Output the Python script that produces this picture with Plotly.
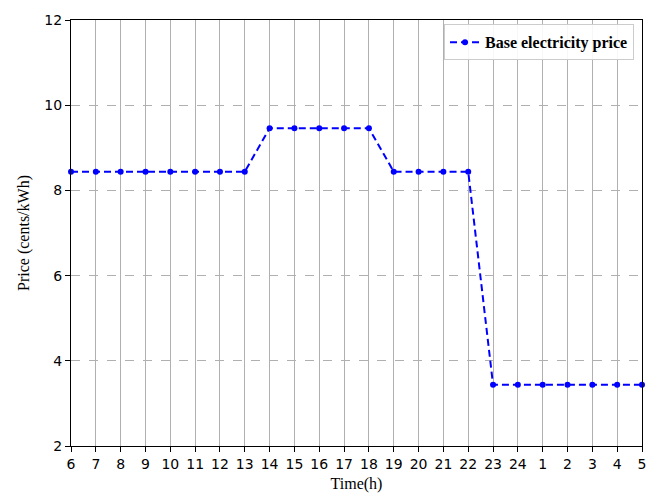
import plotly.graph_objects as go

hours = ["6","7","8","9","10","11","12","13","14","15","16","17","18","19","20","21","22","23","24","1","2","3","4","5"]
price = [8.44,8.44,8.44,8.44,8.44,8.44,8.44,8.44,9.46,9.46,9.46,9.46,9.46,8.44,8.44,8.44,8.44,3.44,3.44,3.44,3.44,3.44,3.44,3.44]
y_ticks = [2,4,6,8,10,12]

xs = list(range(len(hours)))

fig = go.Figure()
fig.add_trace(go.Scatter(
    x=xs, y=price, mode="lines+markers", name="Base electricity price",
    line=dict(color="#0000ff", width=2, dash="7px,4px"),
    marker=dict(color="#0000ff", size=6),
    cliponaxis=False,
))

fig.update_layout(
    width=646, height=495,
    margin=dict(l=71, r=4, t=20, b=49, autoexpand=False),
    paper_bgcolor="white", plot_bgcolor="white",
    showlegend=True,
    legend=dict(
        x=0.986, y=0.99, xanchor="right", yanchor="top",
        bordercolor="#cccccc", borderwidth=1, bgcolor="rgba(255,255,255,0.9)",
        font=dict(family="Liberation Serif", size=16, color="black", weight="bold"),
    ),
    font=dict(family="DejaVu Sans", size=14, color="black"),
)
fig.update_xaxes(
    range=[0, len(hours) - 1],
    tickmode="array", tickvals=xs, ticktext=hours,
    ticklabeloverflow="allow",
    showgrid=True, gridcolor="#b0b0b0", gridwidth=1,
    showline=True, linecolor="black", linewidth=1.2, mirror=True,
    ticks="outside", ticklen=5, tickcolor="black",
    tickfont=dict(family="DejaVu Sans", size=14),
    title=dict(text="Time(h)", font=dict(family="Liberation Serif", size=16), standoff=6),
    zeroline=False,
)
fig.update_yaxes(
    range=[2, 12],
    tickmode="array", tickvals=y_ticks, ticktext=[str(v) for v in y_ticks],
    showgrid=True, gridcolor="#b0b0b0", gridwidth=1, griddash="dash",
    showline=True, linecolor="black", linewidth=1.2, mirror=True,
    ticks="outside", ticklen=5, tickcolor="black",
    tickfont=dict(family="DejaVu Sans", size=14),
    title=dict(text="Price (cents/kWh)", font=dict(family="Liberation Serif", size=16), standoff=10),
    zeroline=False,
)

fig.write_html("out.html")
